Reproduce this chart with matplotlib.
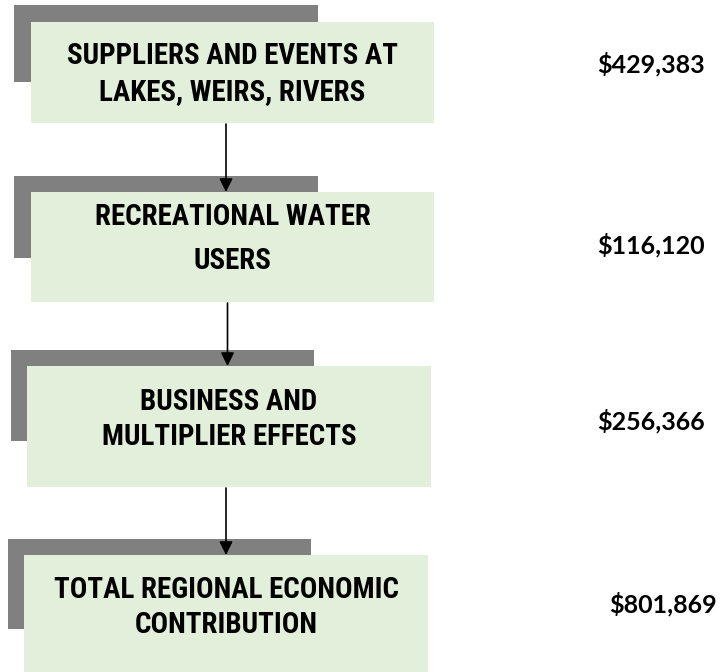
"""Flow diagram: regional economic contribution of recreational water use."""

import matplotlib

matplotlib.use("Agg")
import matplotlib.pyplot as plt  # noqa: E402
from matplotlib import font_manager  # noqa: E402
from matplotlib.patches import Rectangle, FancyArrowPatch  # noqa: E402

# --- data ---------------------------------------------------------------
stages = [
    "SUPPLIERS AND EVENTS AT\nLAKES, WEIRS, RIVERS",
    "RECREATIONAL WATER\nUSERS",
    "BUSINESS AND\nMULTIPLIER EFFECTS",
    "TOTAL REGIONAL ECONOMIC\nCONTRIBUTION",
]
amounts = [429383, 116120, 256366, 801869]

# --- layout (pixel units, y grows downward) -------------------------------
W, H = 722, 672
# green box: (left, top, right, bottom)
boxes = [(31, 22, 434, 123), (31, 192, 434, 302),
         (27, 366, 431, 487), (24, 555, 428, 680)]
# grey shadow box behind each green box
shadows = [(14, 5, 318, 82), (14, 176, 318, 258),
           (11, 350, 314, 441), (8, 539, 311, 629)]
first_baseline = [64, 225, 410, 598]
line_pitch = [36, 44, 35, 35]
arrow_x = [226, 227.5, 226]
value_x = [651, 651, 651.5, 662.5]
value_baseline = [72, 253, 429, 612]

GREEN = "#E2EFDA"
GREY = "#808080"
PT = 72 / 100  # px -> pt at dpi 100


def pick_font(candidates):
    for name in candidates:
        try:
            font_manager.findfont(name, fallback_to_default=False)
            return name
        except ValueError:
            continue
    return "DejaVu Sans"


label_font = pick_font(["Liberation Sans Narrow", "Roboto Condensed",
                        "Arial Narrow", "Roboto", "Liberation Sans"])
value_font = pick_font(["Lato", "Open Sans"])

fig = plt.figure(figsize=(W / 100, H / 100), dpi=100)
ax = fig.add_axes([0, 0, 1, 1])
ax.set_xlim(0, W)
ax.set_ylim(H, 0)
ax.axis("off")

# size the narrow-ish label font so the widest line spans ~350 px
probe = ax.text(0, 0, "TOTAL REGIONAL ECONOMIC", fontsize=29 * PT,
                fontweight="bold", family=label_font)
renderer = fig.canvas.get_renderer()
w = probe.get_window_extent(renderer).width
probe.remove()
label_size = min(29 * PT, 29 * PT * 350 / w)

for i, (label, amount) in enumerate(zip(stages, amounts)):
    sl, st, sr, sb = shadows[i]
    ax.add_patch(Rectangle((sl, st), sr - sl, sb - st, facecolor=GREY,
                           edgecolor="none", zorder=1))
    gl, gt, gr, gb = boxes[i]
    ax.add_patch(Rectangle((gl, gt), gr - gl, gb - gt, facecolor=GREEN,
                           edgecolor="none", zorder=2))
    cx = (gl + gr) / 2
    for k, line in enumerate(label.split("\n")):
        ax.text(cx, first_baseline[i] + k * line_pitch[i], line,
                ha="center", va="baseline", fontsize=label_size,
                fontweight="bold", family=label_font, color="black", zorder=3)
    ax.text(value_x[i], value_baseline[i], f"${amount:,}", ha="center",
            va="baseline", fontsize=25 * PT, fontweight="bold",
            family=value_font, color="black", zorder=3)

# arrows from the bottom of one green box to the top of the next
for i, x in enumerate(arrow_x):
    y0 = boxes[i][3]
    y1 = boxes[i + 1][1]
    ax.add_patch(FancyArrowPatch((x, y0 + 1), (x, y1), arrowstyle="-|>",
                                 mutation_scale=20, linewidth=1.2,
                                 color="black", shrinkA=0, shrinkB=0,
                                 zorder=4))

fig.savefig("out.png", dpi=100)
plt.close(fig)
